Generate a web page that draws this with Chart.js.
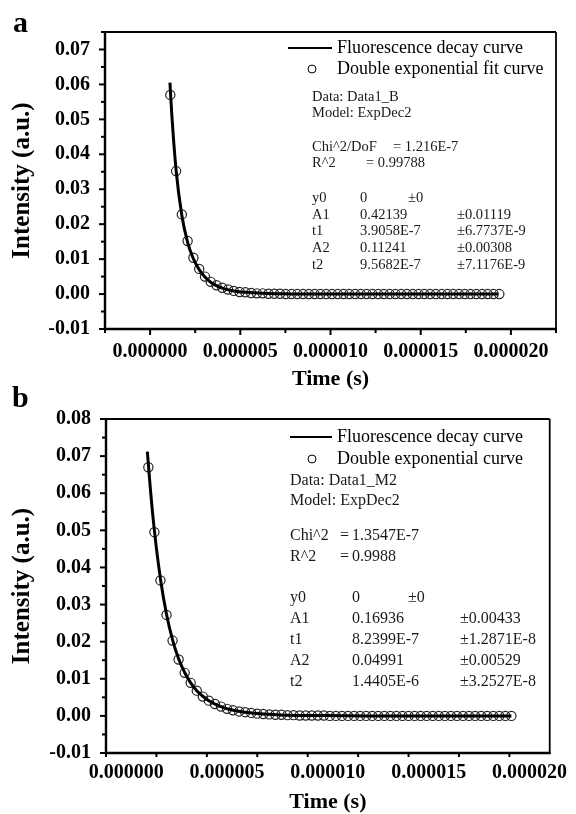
<!DOCTYPE html>
<html>
<head>
<meta charset="utf-8">
<script src="https://cdn.jsdelivr.net/npm/chart.js@4.4.1/dist/chart.umd.min.js"></script>
<style>
  html, body { margin: 0; padding: 0; background: #fff; }
  #wrap { position: relative; width: 576px; height: 814px; }
  canvas { position: absolute; left: 0; }
  .tag { position: absolute; font: bold 30px 'Liberation Serif', serif; line-height: 30px; color: #000; }
</style>
</head>
<body>
<div id="wrap">
  <canvas id="chart-a" width="576" height="390" style="top:0"></canvas>
  <canvas id="chart-b" width="576" height="424" style="top:390px"></canvas>
  <div class="tag" style="left:13px;top:7px">a</div>
  <div class="tag" style="left:12px;top:382px">b</div>
</div>
<script>
// time axis in microseconds, labels shown in seconds
const xTickValues = [0, 5, 10, 15, 20];
const xTickLabels = ['0.000000', '0.000005', '0.000010', '0.000015', '0.000020'];
const yTickValuesA = [-0.01, 0, 0.01, 0.02, 0.03, 0.04, 0.05, 0.06, 0.07];
const yTickValuesB = [-0.01, 0, 0.01, 0.02, 0.03, 0.04, 0.05, 0.06, 0.07, 0.08];

// panel a
const lineTimeA = [1.10, 1.20, 1.44, 1.76, 2.08, 2.40, 2.72, 3.04, 3.36, 3.68, 4.00, 4.64, 5.28, 6.24, 7.20, 9.00, 19.30];
const lineA = [0.0605, 0.0516, 0.0355, 0.0225, 0.0148, 0.0101, 0.0070, 0.0049, 0.0034, 0.0024, 0.0017, 0.0009, 0.0005, 0.0002, 0.0001, 0, 0];
const fitTimeA = [
  1.12, 1.44, 1.76, 2.08, 2.40, 2.72, 3.04, 3.36, 3.68, 4.00,
  4.32, 4.64, 4.96, 5.28, 5.60, 5.92, 6.24, 6.56, 6.88, 7.20,
  7.52, 7.84, 8.16, 8.48, 8.80, 9.12, 9.44, 9.76, 10.08, 10.40,
  10.72, 11.04, 11.36, 11.68, 12.00, 12.32, 12.64, 12.96, 13.28, 13.60,
  13.92, 14.24, 14.56, 14.88, 15.20, 15.52, 15.84, 16.16, 16.48, 16.80,
  17.12, 17.44, 17.76, 18.08, 18.40, 18.72, 19.04, 19.36
];
const fitA = [
  0.0570, 0.0352, 0.0228, 0.0152, 0.0104, 0.0072, 0.0050, 0.0035, 0.0025, 0.0018,
  0.0013, 0.0009, 0.0006, 0.0005, 0.0003, 0.0002, 0.0002, 0.0001, 0.0001, 0.0001,
  0, 0, 0, 0, 0, 0, 0, 0, 0, 0,
  0, 0, 0, 0, 0, 0, 0, 0, 0, 0,
  0, 0, 0, 0, 0, 0, 0, 0, 0, 0,
  0, 0, 0, 0, 0, 0, 0, 0
];

// panel b
const lineTimeB = [1.05, 1.20, 1.40, 1.70, 2.00, 2.30, 2.60, 2.90, 3.20, 3.50, 3.80, 4.10, 4.70, 5.30, 5.90, 6.80, 8.00, 9.50, 12.00, 19.10];
const lineB = [0.0712, 0.0612, 0.0499, 0.0369, 0.0274, 0.0205, 0.0154, 0.0117, 0.0089, 0.0068, 0.0053, 0.0041, 0.0025, 0.0015, 0.0010, 0.0005, 0.0002, 0.0001, 0, 0];
const fitTimeB = [
  1.10, 1.40, 1.70, 2.00, 2.30, 2.60, 2.90, 3.20, 3.50, 3.80,
  4.10, 4.40, 4.70, 5.00, 5.30, 5.60, 5.90, 6.20, 6.50, 6.80,
  7.10, 7.40, 7.70, 8.00, 8.30, 8.60, 8.90, 9.20, 9.50, 9.80,
  10.10, 10.40, 10.70, 11.00, 11.30, 11.60, 11.90, 12.20, 12.50, 12.80,
  13.10, 13.40, 13.70, 14.00, 14.30, 14.60, 14.90, 15.20, 15.50, 15.80,
  16.10, 16.40, 16.70, 17.00, 17.30, 17.60, 17.90, 18.20, 18.50, 18.80,
  19.10
];
const fitB = [
  0.0670, 0.0495, 0.0365, 0.0272, 0.0203, 0.0152, 0.0116, 0.0089, 0.0068, 0.0052,
  0.0041, 0.0032, 0.0025, 0.0019, 0.0015, 0.0012, 0.0010, 0.0008, 0.0006, 0.0005,
  0.0004, 0.0003, 0.0003, 0.0002, 0.0002, 0.0001, 0.0001, 0.0001, 0.0001, 0.0001,
  0, 0, 0, 0, 0, 0, 0, 0, 0, 0,
  0, 0, 0, 0, 0, 0, 0, 0, 0, 0,
  0, 0, 0, 0, 0, 0, 0, 0, 0, 0,
  0
];

const legendLabels = ['Fluorescence decay curve', 'Double exponential fit curve', 'Double exponential curve'];

const SERIF = "'Liberation Serif', 'Times New Roman', serif";

function toPoints(xs, ys) {
  return xs.map((x, i) => ({ x: x, y: ys[i] }));
}

// frame, minor ticks, legend and fit report drawn on top of the chart
function makeFramePlugin(conf) {
  return {
    id: 'frame',
    afterDraw(chart) {
      const { ctx, chartArea: a } = chart;
      const xs = chart.scales.x;
      const ys = chart.scales.y;
      ctx.save();
      ctx.strokeStyle = '#000';
      ctx.lineCap = 'butt';

      function seg(x1, y1, x2, y2, w) {
        ctx.lineWidth = w;
        ctx.beginPath();
        ctx.moveTo(x1, y1);
        ctx.lineTo(x2, y2);
        ctx.stroke();
      }

      // box
      seg(a.left, a.top, a.right, a.top, 1.8);
      seg(a.right, a.top, a.right, a.bottom, 1.8);
      seg(a.left - 1, a.bottom, a.right + 1, a.bottom, 2.4);
      seg(a.left, a.top - 1, a.left, a.bottom + 1, 2.4);

      // x ticks
      for (let v = xs.min; v <= xs.max + 1e-9; v += 2.5) {
        const px = xs.getPixelForValue(v);
        const major = Math.abs(v / 5 - Math.round(v / 5)) < 1e-6;
        seg(px, a.bottom, px, a.bottom + (major ? 6 : 4), 2);
      }
      // y ticks
      for (let v = -0.01; v <= ys.max + 1e-9; v += 0.005) {
        const py = ys.getPixelForValue(v);
        const major = Math.abs(v / 0.01 - Math.round(v / 0.01)) < 1e-6;
        seg(a.left, py, a.left - (major ? 6 : 4), py, 2);
      }

      // legend
      ctx.fillStyle = '#000';
      ctx.textBaseline = 'middle';
      ctx.textAlign = 'left';
      const lg = conf.legend;
      seg(lg.x1, lg.y1, lg.x2, lg.y1, 2);
      ctx.lineWidth = 1;
      ctx.beginPath();
      ctx.arc(lg.cx, lg.y2, 4, 0, Math.PI * 2);
      ctx.stroke();
      ctx.font = '18px ' + SERIF;
      ctx.fillText(lg.text1, lg.tx, lg.y1);
      ctx.fillText(lg.text2, lg.tx, lg.y2);

      // fit report
      ctx.fillStyle = '#1a1a1a';
      ctx.font = conf.noteSize + 'px ' + SERIF;
      conf.notes.forEach(n => ctx.fillText(n[0], n[1], n[2]));
      ctx.restore();
    }
  };
}

function makeChart(id, opts) {
  const ctx = document.getElementById(id).getContext('2d');
  return new Chart(ctx, {
    type: 'scatter',
    data: {
      datasets: [
        {
          label: 'Fluorescence decay curve',
          data: toPoints(opts.lineTime, opts.lineY),
          showLine: true,
          borderColor: '#000',
          borderWidth: 3,
          pointRadius: 0,
          cubicInterpolationMode: 'monotone'
        },
        {
          label: 'Double exponential fit curve',
          data: toPoints(opts.fitTime, opts.fitY),
          showLine: false,
          pointRadius: 4.6,
          pointBorderWidth: 1.2,
          borderColor: '#222',
          backgroundColor: 'rgba(0,0,0,0)'
        }
      ]
    },
    options: {
      responsive: false,
      animation: false,
      devicePixelRatio: 1,
      layout: { padding: { left: 0, right: opts.padRight, top: opts.padTop, bottom: 0 } },
      plugins: { legend: { display: false }, tooltip: { enabled: false } },
      scales: {
        x: {
          type: 'linear',
          min: opts.xMin,
          max: opts.xMax,
          afterBuildTicks(s) { s.ticks = xTickValues.map(v => ({ value: v })); },
          afterFit(s) { s.height = opts.xHeight; },
          grid: { display: false, drawTicks: false },
          border: { display: false },
          ticks: {
            autoSkip: false,
            maxRotation: 0,
            padding: opts.xPad,
            color: '#000',
            font: { family: SERIF, size: 20, weight: 'bold' },
            callback: (v, i) => xTickLabels[i]
          },
          title: {
            display: true,
            text: 'Time (s)',
            color: '#000',
            font: { family: SERIF, size: 22, weight: 'bold' },
            padding: { top: 0, bottom: opts.titlePad }
          }
        },
        y: {
          type: 'linear',
          min: -0.01,
          max: opts.yMax,
          afterBuildTicks(s) { s.ticks = opts.yTicks.map(v => ({ value: v })); },
          afterFit(s) { s.width = opts.yWidth; },
          grid: { display: false, drawTicks: false },
          border: { display: false },
          ticks: {
            padding: 15,
            color: '#000',
            font: { family: SERIF, size: 20, weight: 'bold' },
            callback: (v) => v.toFixed(2)
          },
          title: {
            display: true,
            text: 'Intensity (a.u.)',
            color: '#000',
            font: { family: SERIF, size: 25, weight: 'bold' },
            padding: { top: 8, bottom: 0 }
          }
        }
      }
    },
    plugins: [makeFramePlugin(opts.frame)]
  });
}

makeChart('chart-a', {
  lineTime: lineTimeA, lineY: lineA, fitTime: fitTimeA, fitY: fitA,
  xMin: -2.5, xMax: 22.5, yMax: 0.075, yTicks: yTickValuesA,
  padRight: 20, padTop: 32, xHeight: 61, yWidth: 105, xPad: 11, titlePad: -3,
  frame: {
    legend: { x1: 288, x2: 332, cx: 312, y1: 48, y2: 69, tx: 337, text1: legendLabels[0], text2: legendLabels[1] },
    noteSize: 14.5,
    notes: [
      ['Data: Data1_B', 312, 97],
      ['Model: ExpDec2', 312, 113],
      ['Chi^2/DoF', 312, 147], ['= 1.216E-7', 393, 147],
      ['R^2', 312, 163], ['= 0.99788', 366, 163],
      ['y0', 312, 198], ['0', 360, 198], ['\u00b10', 408, 198],
      ['A1', 312, 215], ['0.42139', 360, 215], ['\u00b10.01119', 457, 215],
      ['t1', 312, 231], ['3.9058E-7', 360, 231], ['\u00b16.7737E-9', 457, 231],
      ['A2', 312, 248], ['0.11241', 360, 248], ['\u00b10.00308', 457, 248],
      ['t2', 312, 265], ['9.5682E-7', 360, 265], ['\u00b17.1176E-9', 457, 265]
    ]
  }
});

makeChart('chart-b', {
  lineTime: lineTimeB, lineY: lineB, fitTime: fitTimeB, fitY: fitB,
  xMin: -1, xMax: 21, yMax: 0.08, yTicks: yTickValuesB,
  padRight: 21, padTop: 29, xHeight: 61, yWidth: 106, xPad: 8, titlePad: -2,
  frame: {
    legend: { x1: 290, x2: 332, cx: 312, y1: 47, y2: 69, tx: 337, text1: legendLabels[0], text2: legendLabels[2] },
    noteSize: 16,
    notes: [
      ['Data: Data1_M2', 290, 91],
      ['Model: ExpDec2', 290, 111],
      ['Chi^2', 290, 146], ['=', 340, 146], ['1.3547E-7', 352, 146],
      ['R^2', 290, 167], ['=', 340, 167], ['0.9988', 352, 167],
      ['y0', 290, 208], ['0', 352, 208], ['\u00b10', 408, 208],
      ['A1', 290, 229], ['0.16936', 352, 229], ['\u00b10.00433', 460, 229],
      ['t1', 290, 250], ['8.2399E-7', 352, 250], ['\u00b11.2871E-8', 460, 250],
      ['A2', 290, 271], ['0.04991', 352, 271], ['\u00b10.00529', 460, 271],
      ['t2', 290, 292], ['1.4405E-6', 352, 292], ['\u00b13.2527E-8', 460, 292]
    ]
  }
});
</script>
</body>
</html>
